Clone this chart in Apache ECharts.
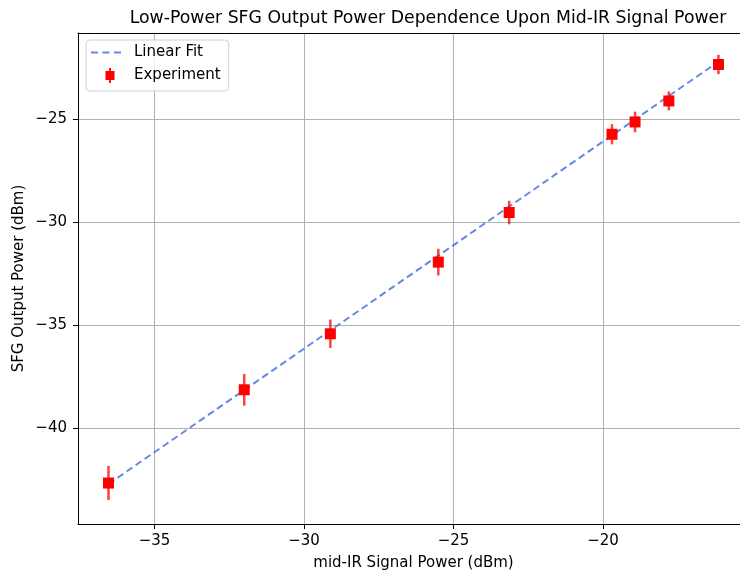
<!DOCTYPE html>
<html>
<head>
<meta charset="utf-8">
<script src="https://cdn.jsdelivr.net/npm/echarts@6/dist/echarts.min.js"></script>
<style>
  html, body { margin: 0; padding: 0; background: #fff; }
  #chart { width: 740px; height: 571px; }
</style>
</head>
<body>
<div id="chart"></div>
<script>
// measured points (dBm)
var signalPower = [-36.54, -32.0, -29.12, -25.51, -23.14, -19.70, -18.93, -17.80, -16.14];
var sfgPower    = [-42.67, -38.14, -35.42, -31.94, -29.53, -25.73, -25.13, -24.11, -22.34];
var sfgError    = [0.83, 0.77, 0.69, 0.65, 0.57, 0.49, 0.50, 0.46, 0.47];
// linear fit end points
var fitX = [-36.54, -16.14];
var fitY = [-42.72, -22.20];

var xTicks = [-35, -30, -25, -20];
var yTicks = [-40, -35, -30, -25];

var expData = [];
var errData = [];
for (var i = 0; i < signalPower.length; i++) {
	expData.push([signalPower[i], sfgPower[i]]);
	errData.push([signalPower[i], sfgPower[i] - sfgError[i], sfgPower[i] + sfgError[i]]);
}
var fitData = [];
for (var j = 0; j < fitX.length; j++) {
	fitData.push([fitX[j], fitY[j]]);
}

var font = 'DejaVu Sans';
function minusLabel(v) { return String(v).replace('-', '\u2212'); }

// legend icons: three dashes (plus an empty tail for spacing), and a square with its error bar
var dashIcon = 'path://M0,0h7v2h-7z M11.5,0h7v2h-7z M23,0h7v2h-7z M37.9,0h0.1v0.1h-0.1z';
var errIcon = 'path://M3.6,0h1.8v3h3.6v9h-3.6v3h-1.8v-3h-3.6v-9h3.6z';

var dom = document.getElementById("chart");
var myChart = echarts.init(dom, null, {renderer: 'canvas'});
var option = {
	animation: false,
	backgroundColor: '#fff',
	title: {
		text: 'Low-Power SFG Output Power Dependence Upon Mid-IR Signal Power',
		left: 423, top: 5,
		textAlign: 'center',
		textStyle: {fontFamily: font, fontSize: 17.3, fontWeight: 'normal', color: '#000'}
	},
	grid: {left: 78, top: 33, right: 0, bottom: 47, show: false, containLabel: false, outerBoundsMode: 'none'},
	legend: {
		left: 86, top: 40,
		orient: 'vertical',
		itemWidth: 38, itemHeight: 15, itemGap: 8,
		padding: [5, 8, 8, 5],
		backgroundColor: 'rgba(255,255,255,0.8)',
		borderColor: '#d0d0d0', borderWidth: 1, borderRadius: 4,
		textStyle: {fontFamily: font, fontSize: 15, color: '#000'},
		data: [
			{name: 'Linear Fit', icon: dashIcon, itemStyle: {color: 'rgba(65,105,225,0.8)'}},
			{name: 'Experiment', icon: errIcon, itemStyle: {color: '#ff0000'}}
		]
	},
	xAxis: [{
		type: 'value',
		min: -37.56, max: -15.42,
		name: 'mid-IR Signal Power (dBm)',
		nameLocation: 'middle', nameGap: 32,
		nameTextStyle: {fontFamily: font, fontSize: 15, color: '#000', padding: [0, 0, 0, 9]},
		axisLine: {show: true, onZero: false, lineStyle: {color: '#000', width: 1}},
		axisTick: {show: true, inside: false, length: 5, customValues: xTicks, lineStyle: {color: '#000'}},
		axisLabel: {fontFamily: font, fontSize: 15, color: '#000', margin: 10, customValues: xTicks, formatter: minusLabel},
		splitLine: {show: true, lineStyle: {color: '#b0b0b0', width: 1}}
	}, {
		type: 'value', position: 'top',
		min: -37.56, max: -15.42,
		axisLine: {show: true, onZero: false, lineStyle: {color: '#000', width: 1}},
		axisTick: {show: false}, axisLabel: {show: false}, splitLine: {show: false}
	}],
	yAxis: {
		type: 'value',
		min: -44.66, max: -20.81,
		name: 'SFG Output Power (dBm)',
		nameLocation: 'middle', nameGap: 51, nameMoveOverlap: false,
		nameTextStyle: {fontFamily: font, fontSize: 15, color: '#000'},
		axisLine: {show: true, onZero: false, lineStyle: {color: '#000', width: 1}},
		axisTick: {show: true, inside: false, length: 5, customValues: yTicks, lineStyle: {color: '#000'}},
		axisLabel: {fontFamily: font, fontSize: 15, color: '#000', margin: 11, customValues: yTicks, formatter: minusLabel},
		splitLine: {show: true, lineStyle: {color: '#b0b0b0', width: 1}}
	},
	series: [
		{
			name: 'Linear Fit',
			type: 'line',
			data: fitData,
			symbol: 'none',
			z: 3,
			itemStyle: {color: 'rgba(65,105,225,0.8)'},
			lineStyle: {color: 'rgba(65,105,225,0.8)', width: 2, type: [7, 4]}
		},
		{
			name: 'Experiment',
			type: 'custom',
			data: errData,
			z: 4,
			itemStyle: {color: '#ff0000'},
			renderItem: function (params, api) {
				var lo = api.coord([api.value(0), api.value(1)]);
				var hi = api.coord([api.value(0), api.value(2)]);
				return {
					type: 'line',
					shape: {x1: lo[0], y1: lo[1], x2: hi[0], y2: hi[1]},
					style: {stroke: 'rgba(255,0,0,0.75)', lineWidth: 2.5}
				};
			}
		},
		{
			name: 'Experiment',
			type: 'scatter',
			data: expData,
			symbol: 'rect',
			symbolSize: 11,
			z: 5,
			itemStyle: {color: '#ff0000', opacity: 1}
		}
	]
};

if (option && typeof option === "object") {
	myChart.setOption(option, true);
}
</script>
</body>
</html>
